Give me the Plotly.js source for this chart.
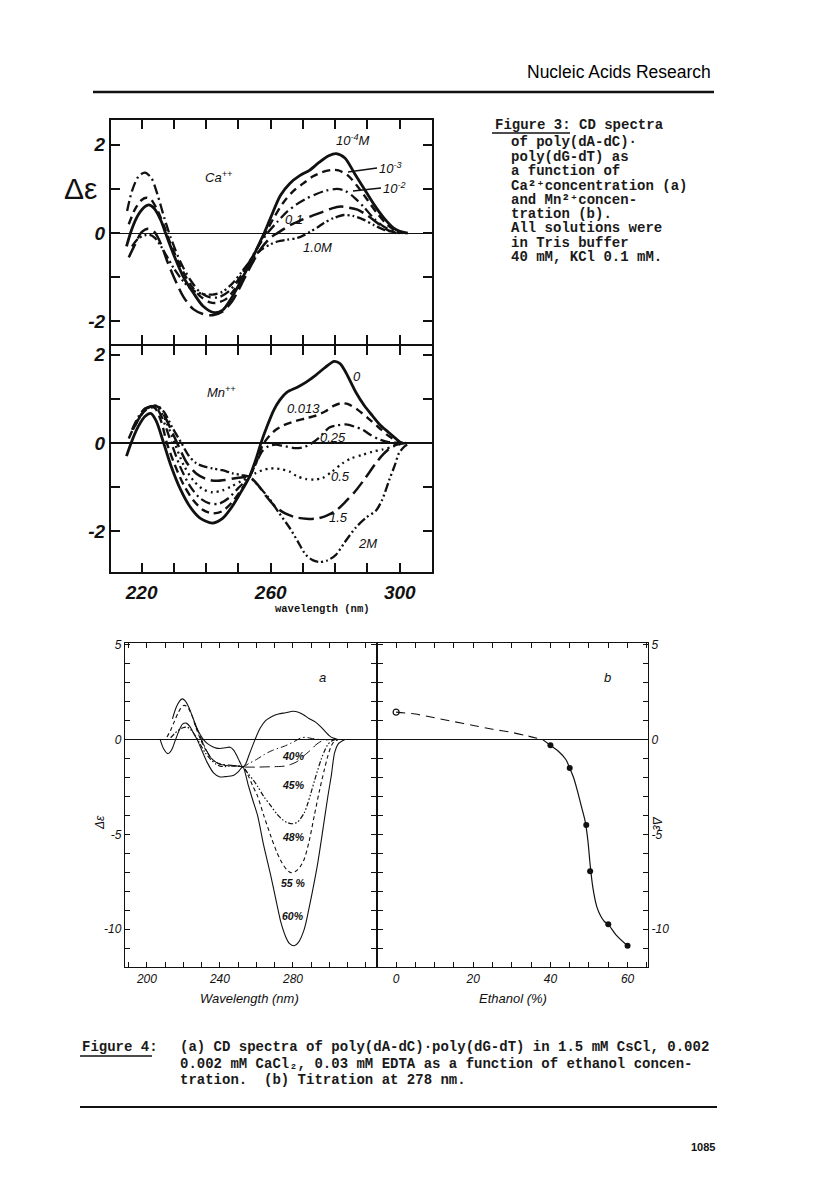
<!DOCTYPE html>
<html><head><meta charset="utf-8">
<script src="https://cdn.plot.ly/plotly-3.0.1.min.js"></script>
<style>html,body{margin:0;padding:0;background:#fff}</style>
</head><body><div id="chart" style="width:816px;height:1202px"></div>
<script>
// ---------- Figure 3a : Ca++ ----------
const ca1_x = [215.3,217,219,221,222.3,224,226,227.4,230,233,236,239,242.5,245,248,251,254,257,258,260,263,266,269,272,275,278,280.3,283,286,289,292,295,298,300,302.5];
const ca1_y = [-0.3,0.1,0.42,0.6,0.64,0.55,0.28,0,-0.5,-1.0,-1.35,-1.65,-1.8,-1.75,-1.45,-1.05,-0.62,-0.15,0,0.35,0.85,1.13,1.3,1.42,1.6,1.75,1.8,1.7,1.35,1.0,0.65,0.35,0.12,0.04,0];
const ca2_x = [216,218,220,221.5,223,225,227,229,232,235,238,241,243,246,249,252,255,258,261,264,267,270,273,276,279,281,284,287,290,293,296,299,302];
const ca2_y = [0.2,0.55,0.75,0.8,0.75,0.5,0.15,-0.25,-0.75,-1.15,-1.42,-1.56,-1.58,-1.5,-1.25,-0.85,-0.45,-0.05,0.35,0.7,0.95,1.12,1.28,1.38,1.43,1.42,1.3,1.05,0.75,0.45,0.2,0.05,0];
const ca3_x = [215.5,217,219,221,223,225,227,229,232,235,238,241,244,247,250,253,256,259,262,265,268,271,274,277,280.5,283,286,289,292,295,298,301];
const ca3_y = [0.5,0.95,1.28,1.37,1.25,0.85,0.35,-0.1,-0.65,-1.05,-1.33,-1.45,-1.45,-1.32,-1.05,-0.7,-0.32,0.0,0.25,0.48,0.65,0.78,0.88,0.96,1.0,0.96,0.8,0.58,0.33,0.15,0.05,0];
const ca4_x = [216,218,220,222,224,226,228,230,233,236,239,242,245,248,251,254,257,260,262.1,266.3,269,272.4,276.5,279,281.7,284,286.9,290,293.1,296,299];
const ca4_y = [-0.55,-0.25,0.02,0.1,0.02,-0.25,-0.65,-1.0,-1.45,-1.72,-1.83,-1.86,-1.78,-1.55,-1.15,-0.72,-0.35,-0.1,0,0.19,0.28,0.38,0.49,0.56,0.6,0.58,0.53,0.4,0.23,0.08,0];
const ca5_x = [217,219,221,222.5,224,226,228,230,233,236,239,242,245,248,251,254,257,260,262.1,265,268.3,270.5,272.4,274.5,276.5,279.5,282.7,285.5,288.9,292,295,298,300];
const ca5_y = [-0.3,-0.12,-0.05,-0.04,-0.1,-0.3,-0.55,-0.8,-1.1,-1.3,-1.38,-1.39,-1.33,-1.15,-0.88,-0.6,-0.38,-0.25,-0.19,-0.15,-0.11,-0.04,0.04,0.13,0.23,0.34,0.41,0.39,0.3,0.18,0.08,0.02,0];

// ---------- Figure 3b : Mn++ ----------
const mn1_x = [215.3,217,219,221,222.8,224.5,226.8,229,232,235,238,241.9,245,248,250.5,253.4,255.5,257,259,261,262.7,265,268.4,271,274,277,279.7,281.5,283.3,286.4,289,291.5,294,296.7,300.3];
const mn1_y = [-0.3,0.05,0.38,0.6,0.67,0.5,0,-0.5,-1.05,-1.45,-1.7,-1.82,-1.72,-1.45,-1.15,-0.77,-0.35,0,0.4,0.75,0.96,1.15,1.27,1.38,1.54,1.72,1.85,1.8,1.6,1.15,0.85,0.62,0.4,0.23,0];
const mn2_x = [216,218,220,222,224,226,227.8,230,233,236,239,242,245,248,251,253.4,255.5,257.5,259.5,261.6,264,267.8,271,274,277,279.5,281.8,284,287,290.5,293.5,296.7,299,301];
const mn2_y = [0.1,0.42,0.65,0.78,0.8,0.5,0,-0.45,-0.95,-1.3,-1.52,-1.6,-1.55,-1.35,-1.05,-0.77,-0.45,-0.05,0.15,0.3,0.4,0.5,0.56,0.62,0.72,0.84,0.9,0.88,0.75,0.54,0.35,0.15,0.05,0];
const mn3_x = [217,219,221,223,224.5,226.5,229.2,232,235,238,241,244,247,250,253.4,255.5,257.5,259.5,261.6,264,267.8,270,272,275,278.2,280.5,283.3,286,288.5,291,293.6,296.5,300];
const mn3_y = [0.3,0.6,0.78,0.83,0.8,0.55,0,-0.55,-0.98,-1.25,-1.37,-1.38,-1.25,-1.02,-0.77,-0.45,-0.18,-0.07,-0.04,-0.07,-0.12,-0.1,-0.04,0.12,0.35,0.4,0.42,0.37,0.3,0.18,0.08,0.02,0];
const mn4_x = [217.5,219.5,221.5,223.5,225,227,230.2,233,236,239,242,245,248,251,253.4,255.5,257.5,259.5,261.6,263.5,265.8,268,270.9,273.5,276,279,282.3,285,288.5,291.5,294.6,298,301];
const mn4_y = [0.35,0.62,0.78,0.84,0.8,0.58,0,-0.5,-0.85,-1.05,-1.12,-1.08,-0.98,-0.86,-0.77,-0.68,-0.62,-0.58,-0.58,-0.6,-0.65,-0.75,-0.82,-0.83,-0.8,-0.65,-0.46,-0.35,-0.27,-0.2,-0.15,-0.08,0];
const mn5_x = [218,220,222,224,225.5,227.5,231,234,237,240,243,246,249,251.5,253.4,256,258.5,261.6,264.5,267.8,271,274,277,280.2,283,286.4,289.5,292.6,295,297.7,300,302];
const mn5_y = [0.4,0.65,0.8,0.84,0.8,0.55,0,-0.45,-0.7,-0.82,-0.86,-0.84,-0.8,-0.78,-0.77,-0.95,-1.2,-1.46,-1.6,-1.69,-1.72,-1.72,-1.66,-1.54,-1.35,-1.08,-0.78,-0.46,-0.25,-0.08,-0.02,0];
const mn6_x = [217.3,219.5,221.5,223.5,225,227,229.5,232.3,234.5,236.9,239.5,242,245,248.2,251,253.4,256.5,259.6,262.5,265.8,268.5,270.9,273,275,277.5,280.2,283,286.4,289.5,292.6,294.5,296.7,298.5,299.8,301.5,302.9];
const mn6_y = [0.3,0.6,0.78,0.85,0.84,0.7,0.35,0,-0.28,-0.46,-0.54,-0.58,-0.62,-0.69,-0.73,-0.77,-1.0,-1.27,-1.58,-1.92,-2.25,-2.54,-2.66,-2.7,-2.67,-2.54,-2.25,-1.92,-1.7,-1.54,-1.3,-0.85,-0.5,-0.23,-0.08,-0.02];

// ---------- Figure 4a : ethanol spectra ----------
const eA_x = [214,216,218,219.3,221,223,225,227,229,231,233,236,238,240,243,245.5,247.5,249.5,251,252.5,254,256,259.2,262,265,268,272,276,280,283,286,289,292,295,298,300,302,304.6];
const eA_y = [1.1,1.7,2.05,2.15,2.05,1.7,1.2,0.7,0.3,0,-0.2,-0.38,-0.45,-0.47,-0.43,-0.4,-0.55,-0.9,-1.2,-1.44,-1.3,-0.8,0,0.6,1.0,1.2,1.35,1.42,1.5,1.45,1.3,1.1,0.95,0.7,0.4,0.2,0.08,0];
const e40_x = [226,229,232,235,238,241,244,247,250,252.5,256,260,264.2,268,272,275.2,279,282.6,284.5,287,289.9,293,297.2];
const e40_y = [0.9,0.2,-0.45,-0.95,-1.2,-1.3,-1.33,-1.36,-1.4,-1.44,-1.25,-1.05,-0.79,-0.6,-0.45,-0.35,-0.18,0,0.1,0.12,0.07,0.02,0];
const e45_x = [226,229,232,235,238,241,244,247,250,252.5,256,260,264.2,268,272,275.2,278.5,282.6,286,289.9,292.5,295.4,298,300];
const e45_y = [0.9,0.2,-0.45,-0.95,-1.2,-1.32,-1.36,-1.38,-1.4,-1.44,-1.45,-1.45,-1.44,-1.43,-1.42,-1.4,-1.32,-1.14,-0.85,-0.53,-0.28,-0.09,-0.02,0];
const e48_x = [213,215,217,219,220.5,221.9,223.5,225.5,227.5,229.5,232,235,238,240,243,246,249,252.5,255.5,258.3,260.6,264,267.9,271,274,277,279.8,282.5,286.2,288,289.9,292,295.4,297.5,299.1,301,303];
const e48_y = [0.1,0.3,0.48,0.6,0.65,0.66,0.58,0.35,0.05,-0.3,-0.7,-1.05,-1.3,-1.4,-1.42,-1.38,-1.38,-1.44,-1.8,-2.14,-2.46,-3.0,-3.5,-3.9,-4.2,-4.38,-4.44,-4.35,-3.86,-3.4,-2.8,-2.1,-1.05,-0.55,-0.26,-0.08,0];
const e55_x = [211,213,215,217,218.5,220,221.5,223,225,227,229.4,232,235,238.5,242,245.5,249,252.5,255.5,258,260.6,264,267.9,271,274,276.5,278.9,281.5,284,286.2,289,291.7,294.5,297.2,299,300.9,302.5,304.6];
const e55_y = [0.14,0.5,0.95,1.4,1.65,1.8,1.78,1.6,1.2,0.6,0,-0.5,-0.95,-1.23,-1.35,-1.38,-1.4,-1.44,-1.9,-2.45,-2.98,-4.0,-5.1,-5.9,-6.5,-6.85,-7.02,-6.95,-6.7,-6.3,-5.3,-4.0,-2.7,-1.58,-0.9,-0.35,-0.1,0];
const e60_x = [207.3,209,211.5,213.5,215.5,217.5,219.5,221.5,223.5,225.5,227.5,230,233,236.5,240,243,247.3,250,252.5,255.5,258,260.6,264,267.9,271,273.4,276,278,280.7,283,286.2,289,291.5,293.6,296,299.1,301,302.8,305,308.3];
const e60_y = [0,-0.45,-0.74,-0.55,-0.05,0.45,0.82,0.87,0.7,0.35,0,-0.55,-1.2,-1.75,-1.97,-1.95,-1.89,-1.7,-1.44,-2.4,-3.2,-4.0,-5.6,-7.2,-8.6,-9.65,-10.4,-10.75,-10.88,-10.7,-10.0,-8.8,-7.6,-6.5,-5.0,-3.0,-1.9,-0.7,-0.2,0];

// ---------- Figure 4b : titration at 278 nm ----------
const openEth = [0];
const openVal = [1.45];
const ptsEth = [40, 45, 49.3, 50.3, 55, 60];
const ptsVal = [-0.3, -1.5, -4.5, -6.95, -9.75, -10.88];
const dashFitEth = [0, 5, 10, 15, 20, 25, 30, 34, 38];
const dashFitVal = [1.45, 1.35, 1.15, 0.95, 0.75, 0.55, 0.38, 0.2, 0];
const solidFitEth = [38, 40, 42, 44, 45, 46, 47, 48, 49, 49.7, 50.3, 51, 52, 53, 54, 55, 57, 60];
const solidFitVal = [0, -0.3, -0.6, -1.05, -1.5, -2.0, -2.7, -3.5, -4.3, -5.3, -6.6, -7.8, -8.8, -9.3, -9.6, -9.75, -10.3, -10.88];

// tick labels
const topXTicks = [220,230,240,250,260,270,280,290,300];
const topXText = ["220","","","","260","","","","300"];
const topYTicks = [-2,-1,0,1,2];
const topYText = ["-2","","0","","2"];
const aXTicks = [190,200,210,220,230,240,250,260,270,280,290,300,310,320];
const aXText = ["","200","","","","240","","","","280","","","",""];
const dYTicks = [-12,-11,-10,-9,-8,-7,-6,-5,-4,-3,-2,-1,0,1,2,3,4,5];
const dYText = ["","","-10","","","","","-5","","","","","0","","","","","5"];
const bXTicks = [0,5,10,15,20,25,30,35,40,45,50,55,60,65];
const bXText = ["0","","","","20","","","","40","","","","60",""];

// ---------- layout helpers ----------
const W = 816, H = 1202;
const px = v => v / W;
const py = v => 1 - v / H;
const dX = (a, b) => [a / W, b / W];
const dY = (top, bottom) => [1 - bottom / H, 1 - top / H];
const SANS = "Liberation Sans, Arial, sans-serif";
const MONO = "Liberation Mono, Courier New, monospace";
const INK = "#111";

function line(x, y, xa, ya, w, dash) {
  return {x: x, y: y, xaxis: xa, yaxis: ya, type: "scatter", mode: "lines",
          line: {color: INK, width: w, dash: dash || "solid", shape: "spline", smoothing: 0.8},
          hoverinfo: "skip"};
}

const traces = [
  line(ca5_x, ca5_y, "x", "y", 2.3, "9px,3px,2px,3px,2px,3px"),
  line(ca4_x, ca4_y, "x", "y", 2.5, "15px,6px"),
  line(ca3_x, ca3_y, "x", "y", 2.3, "10px,4px,2px,4px"),
  line(ca2_x, ca2_y, "x", "y", 2.4, "8px,5px"),
  line(ca1_x, ca1_y, "x", "y", 2.8),

  line(mn6_x, mn6_y, "x2", "y2", 2.3, "9px,3px,2px,3px,2px,3px"),
  line(mn5_x, mn5_y, "x2", "y2", 2.5, "15px,6px"),
  line(mn4_x, mn4_y, "x2", "y2", 2.3, "2px,4px"),
  line(mn3_x, mn3_y, "x2", "y2", 2.3, "10px,4px,2px,4px"),
  line(mn2_x, mn2_y, "x2", "y2", 2.4, "8px,5px"),
  line(mn1_x, mn1_y, "x2", "y2", 2.8),

  line(eA_x, eA_y, "x3", "y3", 1.1),
  line(e40_x, e40_y, "x3", "y3", 1.0, "7px,3px,1.5px,3px"),
  line(e45_x, e45_y, "x3", "y3", 1.0, "10px,5px"),
  line(e48_x, e48_y, "x3", "y3", 1.2, "5px,2px,1.5px,2px,1.5px,2px"),
  line(e55_x, e55_y, "x3", "y3", 1.1, "4px,3px"),
  line(e60_x, e60_y, "x3", "y3", 1.1),

  line(dashFitEth, dashFitVal, "x4", "y4", 1.1, "9px,6px"),
  line(solidFitEth, solidFitVal, "x4", "y4", 1.2),
  {x: openEth, y: openVal, xaxis: "x4", yaxis: "y4", type: "scatter", mode: "markers",
   marker: {symbol: "circle-open", size: 6, color: INK, line: {width: 1.2, color: INK}}, hoverinfo: "skip"},
  {x: ptsEth, y: ptsVal, xaxis: "x4", yaxis: "y4", type: "scatter", mode: "markers",
   marker: {symbol: "circle", size: 6, color: INK}, hoverinfo: "skip"}
];

const bigTick = {family: SANS, size: 19, color: INK, weight: "bold", style: "italic"};
const smallTick = {family: SANS, size: 12, color: INK, style: "italic"};

function topX(extra) {
  return Object.assign({domain: dX(111, 432), range: [210.5, 310], showgrid: false, zeroline: false,
    showline: true, linewidth: 2, linecolor: INK, mirror: "ticks", ticks: "inside", ticklen: 9,
    tickwidth: 2, tickcolor: INK, tickvals: topXTicks, ticktext: topXText, tickfont: bigTick,
    fixedrange: true}, extra);
}
function topY(extra) {
  return Object.assign({showgrid: false, zeroline: true, zerolinecolor: INK, zerolinewidth: 1.2,
    showline: true, linewidth: 2, linecolor: INK, mirror: "ticks", ticks: "inside", ticklen: 9,
    tickwidth: 2, tickcolor: INK, tickvals: topYTicks, ticktext: topYText, tickfont: bigTick,
    fixedrange: true}, extra);
}
function botAxis(extra) {
  return Object.assign({showgrid: false, showline: true, linewidth: 1.2, linecolor: INK,
    mirror: "ticks", ticks: "inside", ticklen: 5, tickwidth: 1, tickcolor: INK,
    tickfont: smallTick, fixedrange: true}, extra);
}

const anns = [];
function ann(text, x, y, o) {
  anns.push(Object.assign({text: text, x: px(x), y: py(y), xref: "paper", yref: "paper",
    showarrow: false, xanchor: "center", yanchor: "middle",
    font: {family: SANS, size: 13, color: INK, style: "italic"}}, o || {}));
}
const ital13 = {family: SANS, size: 13, color: INK, style: "italic"};
const pct = {family: SANS, size: 10.5, color: INK, style: "italic", weight: "bold"};
const cap = {family: MONO, size: 14, color: "#1a1a1a", weight: "bold"};

// header & footer
ann("Nucleic Acids Research", 713, 72, {xanchor: "right", font: {family: SANS, size: 17.5, color: "#000"}});
ann("<b>1085</b>", 717, 1147, {xanchor: "right", font: {family: SANS, size: 11, color: INK}});

// Figure 3 labels
ann("Δε", 80, 189, {font: {family: SANS, size: 30, color: INK}});
ann("Ca<sup>++</sup>", 218, 177, {font: ital13});
ann("10<sup>-4</sup>M", 353, 140, {font: ital13});
ann("10<sup>-3</sup>", 377, 168, {font: ital13, showarrow: true, arrowhead: 0, arrowwidth: 1.5,
  arrowcolor: INK, ax: px(377), ay: py(168), axref: "paper", ayref: "paper",
  x: px(348), y: py(172), xanchor: "left"});
ann("10<sup>-2</sup>", 381, 188, {font: ital13, showarrow: true, arrowhead: 0, arrowwidth: 1.5,
  arrowcolor: INK, ax: px(381), ay: py(188), axref: "paper", ayref: "paper",
  x: px(353), y: py(191), xanchor: "left"});
ann("0.1", 294, 219, {font: ital13});
ann("1.0M", 317, 247, {font: ital13});

ann("Mn<sup>++</sup>", 222, 392, {font: ital13});
ann("0", 357, 377, {font: ital13});
ann("0.013", 303, 409, {font: ital13});
ann("0.25", 333, 437, {font: ital13});
ann("0.5", 340, 476, {font: ital13});
ann("1.5", 338, 517, {font: ital13});
ann("2M", 367, 543, {font: ital13});
ann("<b>wavelength (nm)</b>", 322, 609, {font: {family: MONO, size: 10.5, color: INK}});

// Figure 3 caption
const fig3Lines = [
  ["of poly(dA-dC)·", 142],
  ["poly(dG-dT) as", 157],
  ["a function of", 171],
  ["Ca²⁺concentration (a)", 186],
  ["and Mn²⁺concen-", 200],
  ["tration (b).", 214],
  ["All solutions were", 228],
  ["in Tris buffer", 243],
  ["40 mM, KCl 0.1 mM.", 257]
];
ann("Figure 3: CD spectra", 493, 125, {xanchor: "left", font: cap});
fig3Lines.forEach(l => ann(l[0], 509, l[1], {xanchor: "left", font: cap}));

// Figure 4 labels
ann("a", 322, 677, {font: ital13});
ann("b", 607, 677, {font: ital13});
ann("40%", 293, 756, {font: pct});
ann("45%", 293, 785, {font: pct});
ann("48%", 293, 837, {font: pct});
ann("55 %", 293, 883, {font: pct});
ann("60%", 293, 916, {font: pct});
ann("Δε", 100, 823, {textangle: -90, font: {family: SANS, size: 12, color: INK, style: "italic"}});
ann("Δε", 657, 823, {textangle: 90, font: {family: SANS, size: 12, color: INK, style: "italic"}});
ann("Wavelength (nm)", 249, 998, {font: ital13});
ann("Ethanol (%)", 513, 998, {font: ital13});

// Figure 4 caption
ann("Figure 4:", 80, 1047, {xanchor: "left", font: cap});
ann("(a) CD spectra of poly(dA-dC)·poly(dG-dT) in 1.5 mM CsCl, 0.002", 178, 1047, {xanchor: "left", font: cap});
ann("0.002 mM CaCl₂, 0.03 mM EDTA as a function of ethanol concen-", 178, 1064, {xanchor: "left", font: cap});
ann("tration.  (b) Titration at 278 nm.", 178, 1080, {xanchor: "left", font: cap});

const shapes = [
  {type: "line", xref: "paper", yref: "paper", x0: px(93), x1: px(714), y0: py(92), y1: py(92), line: {color: INK, width: 2.5}},
  {type: "line", xref: "paper", yref: "paper", x0: px(80), x1: px(717), y0: py(1107), y1: py(1107), line: {color: INK, width: 2}},
  {type: "line", xref: "paper", yref: "paper", x0: px(492), x1: px(570), y0: py(133), y1: py(133), line: {color: INK, width: 1.3}},
  {type: "line", xref: "paper", yref: "paper", x0: px(80), x1: px(152), y0: py(1056), y1: py(1056), line: {color: INK, width: 1.3}}
];

const layout = {
  width: W, height: H, margin: {l: 0, r: 0, t: 0, b: 0, pad: 0},
  paper_bgcolor: "#fff", plot_bgcolor: "rgba(0,0,0,0)", showlegend: false,
  xaxis: topX({anchor: "y", showticklabels: false}),
  yaxis: topY({anchor: "x", domain: dY(120, 344), range: [-2.51, 2.56]}),
  xaxis2: topX({anchor: "y2", ticklabelstandoff: 2}),
  yaxis2: topY({anchor: "x2", domain: dY(346, 572), range: [-2.93, 2.2]}),
  xaxis3: botAxis({anchor: "y3", domain: dX(125, 376.4), range: [188, 325.7], zeroline: false,
    tickvals: aXTicks, ticktext: aXText}),
  yaxis3: botAxis({anchor: "x3", domain: dY(643, 967), range: [-12, 5.1], zeroline: true,
    zerolinecolor: INK, zerolinewidth: 1.2, tickvals: dYTicks, ticktext: dYText}),
  xaxis4: botAxis({anchor: "y4", domain: dX(377.6, 648), range: [-4.8, 65.3], zeroline: false,
    tickvals: bXTicks, ticktext: bXText}),
  yaxis4: botAxis({anchor: "x4", domain: dY(643, 967), range: [-12, 5.1], side: "right",
    zeroline: true, zerolinecolor: INK, zerolinewidth: 1.2, tickvals: dYTicks, ticktext: dYText}),
  annotations: anns,
  shapes: shapes
};

Plotly.newPlot("chart", traces, layout, {staticPlot: true, displayModeBar: false});
</script></body></html>
